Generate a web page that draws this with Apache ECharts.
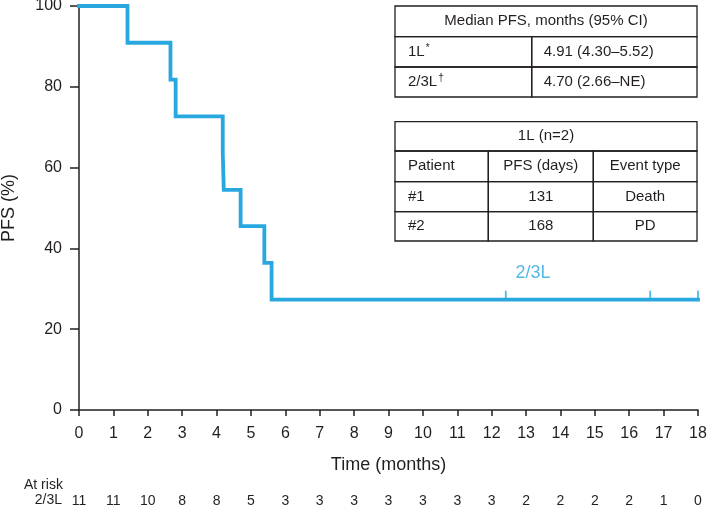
<!DOCTYPE html>
<html>
<head>
<meta charset="utf-8">
<script src="https://cdn.jsdelivr.net/npm/echarts@6/dist/echarts.min.js"></script>
<style>
html,body{margin:0;padding:0;background:#fff;}
#chart{width:709px;height:510px;}
</style>
</head>
<body>
<div id="chart"></div>
<script>
// ---- data ----
var kmTimes  = [0, 1.41, 2.66, 2.81, 4.18, 4.21, 4.70, 5.39, 5.60, 18];
var kmValues = [100, 90.9, 81.8, 72.7, 63.6, 54.5, 45.5, 36.4, 27.3, 27.3];
var censorTimes  = [12.41, 16.61, 18];
var censorValues = [27.3, 27.3, 27.3];
var xTicks = [0,1,2,3,4,5,6,7,8,9,10,11,12,13,14,15,16,17,18];
var atRisk = [11,11,10,8,8,5,3,3,3,3,3,3,3,2,2,2,2,1,0];
var seriesLabel = '2/3L';
var seriesLabelPos = [13.2, 33.9];
var medianHeader = 'Median PFS, months (95% CI)';
var medianRows = [['1L', '*', '4.91 (4.30\u20135.52)'], ['2/3L', '\u2020', '4.70 (2.66\u2013NE)']];
var patientHeader = '1L (n=2)';
var patientCols = ['Patient', 'PFS (days)', 'Event type'];
var patientRows = [['#1', '131', 'Death'], ['#2', '168', 'PD']];

var blue = '#29A8DF';
var ink = '#231F20';
var font = '"Liberation Sans", Arial, Helvetica, sans-serif';

var chart = echarts.init(document.getElementById('chart'), null, {renderer: 'canvas'});

function cell(x, y, w, h) {
  return {type: 'rect', shape: {x: x, y: y, width: w, height: h},
    style: {fill: 'none', stroke: ink, lineWidth: 1.3}, silent: true};
}
function txt(x, y, s, align, rich) {
  var o = {type: 'text', x: x, y: y, silent: true,
    style: {text: s, fill: ink, font: '15px ' + font, textAlign: align || 'left', textVerticalAlign: 'middle'}};
  if (rich) { o.style.rich = rich; }
  return o;
}
var supRich = {
  b: {fontSize: 15, fontFamily: font, color: ink},
  s: {fontSize: 10, fontFamily: font, color: ink, padding: [0, 0, 7, 1]}
};

var gfx = [];
// table 1
var T1 = {x: 395, y: 6, w: 302, c1: 136.7, rh: [30.7, 30.3, 30]};
gfx.push(cell(T1.x, T1.y, T1.w, T1.rh[0]));
gfx.push(txt(T1.x + T1.w / 2, T1.y + T1.rh[0] / 2, medianHeader, 'center'));
var yy = T1.y + T1.rh[0];
medianRows.forEach(function (r, i) {
  var h = T1.rh[i + 1];
  gfx.push(cell(T1.x, yy, T1.c1, h));
  gfx.push(cell(T1.x + T1.c1, yy, T1.w - T1.c1, h));
  gfx.push(txt(T1.x + 13, yy + h / 2, '{b|' + r[0] + '}{s|' + r[1] + '}', 'left', supRich));
  gfx.push(txt(T1.x + T1.c1 + 12, yy + h / 2, r[2], 'left'));
  yy += h;
});
// table 2
var T2 = {x: 395, y: 121.7, w: 302, cols: [93.3, 105, 103.7], rh: [29.3, 30.7, 30, 29.3]};
gfx.push(cell(T2.x, T2.y, T2.w, T2.rh[0]));
gfx.push(txt(T2.x + T2.w / 2, T2.y + T2.rh[0] / 2, patientHeader, 'center'));
var rows2 = [patientCols].concat(patientRows);
yy = T2.y + T2.rh[0];
rows2.forEach(function (r, i) {
  var h = T2.rh[i + 1];
  var xx = T2.x;
  r.forEach(function (v, j) {
    var w = T2.cols[j];
    gfx.push(cell(xx, yy, w, h));
    if (j === 0) gfx.push(txt(xx + 13, yy + h / 2, v, 'left'));
    else gfx.push(txt(xx + w / 2, yy + h / 2, v, 'center'));
    xx += w;
  });
  yy += h;
});
// at risk titles
gfx.push({type: 'text', x: 24, y: 485, silent: true,
  style: {text: 'At risk', fill: ink, font: '14px ' + font, textAlign: 'left', textVerticalAlign: 'middle'}});
gfx.push({type: 'text', x: 62, y: 500, silent: true,
  style: {text: '2/3L', fill: ink, font: '14px ' + font, textAlign: 'right', textVerticalAlign: 'middle'}});

var option = {
  animation: false,
  backgroundColor: '#fff',
  textStyle: {fontFamily: font},
  grid: {left: 79, right: 11, top: 6, bottom: 100, containLabel: false, outerBoundsMode: 'none'},
  xAxis: [{
    type: 'value', min: 0, max: 18, interval: 1,
    name: 'Time (months)', nameLocation: 'middle', nameGap: 46,
    nameTextStyle: {fontSize: 18, color: ink, fontFamily: font},
    axisLine: {show: true, lineStyle: {color: ink, width: 1.5}},
    axisTick: {show: true, length: 6, lineStyle: {color: ink, width: 1.5}},
    axisLabel: {fontSize: 16, color: ink, margin: 16, fontFamily: font},
    splitLine: {show: false}
  }, {
    type: 'value', min: 0, max: 18, interval: 1, position: 'bottom', offset: 82,
    axisLine: {show: false}, axisTick: {show: false}, splitLine: {show: false},
    axisLabel: {fontSize: 14, color: ink, margin: 2, fontFamily: font,
      formatter: function (v) { var i = xTicks.indexOf(v); return i >= 0 ? String(atRisk[i]) : ''; }}
  }],
  yAxis: {
    type: 'value', min: 0, max: 100, interval: 20,
    name: 'PFS (%)', nameLocation: 'middle', nameGap: 61, nameRotate: 90,
    nameTextStyle: {fontSize: 18, color: ink, fontFamily: font},
    axisLine: {show: true, lineStyle: {color: ink, width: 1.5}},
    axisTick: {show: true, length: 9, lineStyle: {color: ink, width: 1.5}},
    axisLabel: {fontSize: 16, color: ink, margin: 17, fontFamily: font},
    splitLine: {show: false}
  },
  series: [{
    type: 'line', step: 'end', symbol: 'none', silent: true,
    data: kmTimes.map(function (t, i) { return [t, kmValues[i]]; }),
    lineStyle: {color: blue, width: 3.8, cap: 'square', join: 'miter'},
    z: 5
  }, {
    type: 'scatter', symbol: 'rect', symbolSize: [1.8, 9], symbolOffset: [0, -4.5], silent: true,
    data: censorTimes.map(function (t, i) { return [t, censorValues[i]]; }),
    itemStyle: {color: blue}, z: 6
  }, {
    type: 'scatter', symbolSize: 0, silent: true,
    data: [seriesLabelPos],
    label: {show: true, position: 'inside', formatter: seriesLabel, fontSize: 18, color: blue, fontFamily: font},
    z: 6
  }],
  graphic: gfx
};
chart.setOption(option);
</script>
</body>
</html>
